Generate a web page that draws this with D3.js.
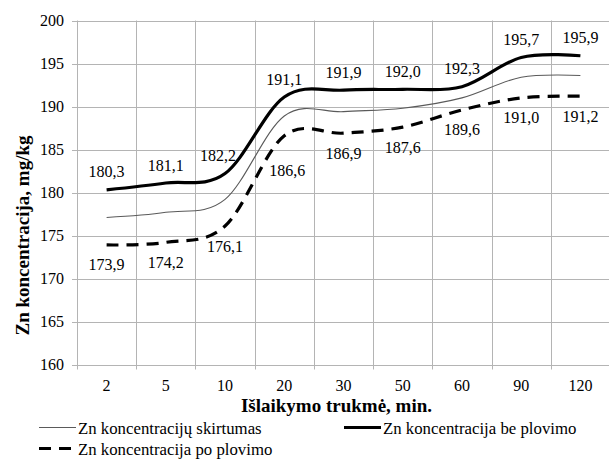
<!DOCTYPE html>
<html><head><meta charset="utf-8"><script src="https://cdn.jsdelivr.net/npm/d3@7"></script></head>
<body style="margin:0">
<svg id="chart" width="609" height="459"></svg>
<script>
// ---- data ----
const categories = ["2", "5", "10", "20", "30", "50", "60", "90", "120"];
const beValues   = [180.3, 181.1, 182.2, 191.1, 191.9, 192.0, 192.3, 195.7, 195.9];   // Zn koncentracija be plovimo
const poValues   = [173.9, 174.2, 176.1, 186.6, 186.9, 187.6, 189.6, 191.0, 191.2];   // Zn koncentracija po plovimo
const skValues   = [177.1, 177.7, 179.2, 188.9, 189.4, 189.8, 191.0, 193.4, 193.6];   // Zn koncentracijų skirtumas (no labels)
const yTicks     = [160, 165, 170, 175, 180, 185, 190, 195, 200];
const seriesNames = ["Zn koncentracijų skirtumas", "Zn koncentracija be plovimo", "Zn koncentracija po plovimo"];
const xTitle = "Išlaikymo trukmė, min.";
const yTitle = "Zn koncentracija, mg/kg";

// ---- layout ----
const svg = d3.select("#chart");
const pL = 77, pR = 610, pT = 20.5, pB = 364.5;
const x = d3.scaleBand().domain(categories).range([pL, pR]).paddingInner(0).paddingOuter(0);
const y = d3.scaleLinear().domain([160, 200]).range([pB, pT]);
const cx = c => x(c) + x.bandwidth() / 2;
const grid = "#b4b4b4";
const fmt = v => d3.format(".1f")(v).replace(".", ",");
function serif(sel) {
  sel.attr("font-family", "Times New Roman").style("font-family", '"Times New Roman"').attr("fill", "#000");
}

// horizontal gridlines + y ticks
const gy = svg.append("g");
gy.selectAll("line").data(yTicks).join("line")
  .attr("x1", pL - 5).attr("x2", pR)
  .attr("y1", d => Math.round(y(d)) + 0.5).attr("y2", d => Math.round(y(d)) + 0.5)
  .attr("stroke", grid).attr("stroke-width", 1);
gy.selectAll("text").data(yTicks).join("text")
  .attr("x", 64).attr("y", d => y(d) + 5.5)
  .attr("text-anchor", "end").attr("font-size", 16)
  .call(serif)
  .text(d => d);

// vertical gridlines (band boundaries) + x ticks
const bounds = categories.map(c => x(c));
svg.append("g").selectAll("line").data(bounds).join("line")
  .attr("x1", d => Math.round(d) + 0.5).attr("x2", d => Math.round(d) + 0.5)
  .attr("y1", pT).attr("y2", pB + 5)
  .attr("stroke", grid).attr("stroke-width", 1);
svg.append("g").selectAll("text").data(categories).join("text")
  .attr("x", d => cx(d)).attr("y", 390.5)
  .attr("text-anchor", "middle").attr("font-size", 16)
  .call(serif)
  .text(d => d);

// axis titles
svg.append("text").attr("x", 336.5).attr("y", 412).attr("text-anchor", "middle")
  .attr("font-size", 19).attr("font-weight", "bold")
  .call(serif).text(xTitle);
svg.append("text").attr("transform", "translate(28.5,235.5) rotate(-90)").attr("text-anchor", "middle")
  .attr("font-size", 19).attr("font-weight", "bold")
  .call(serif).text(yTitle);

// lines
const line = d3.line().x((d, i) => cx(categories[i])).y(d => y(d)).curve(d3.curveCardinal.tension(0));
svg.append("path").datum(skValues).attr("d", line)
  .attr("fill", "none").attr("stroke", "#5a5a5a").attr("stroke-width", 1.1);
svg.append("path").datum(poValues).attr("d", line)
  .attr("fill", "none").attr("stroke", "#000").attr("stroke-width", 3.2)
  .attr("stroke-dasharray", "12,8");
svg.append("path").datum(beValues).attr("d", line)
  .attr("fill", "none").attr("stroke", "#000").attr("stroke-width", 3.2);

// data labels
svg.append("g").selectAll("text").data(beValues).join("text")
  .attr("x", (d, i) => cx(categories[i]) + (i === 2 ? -7 : 0))
  .attr("y", d => y(d) - 12.5)
  .attr("text-anchor", "middle").attr("font-size", 16)
  .call(serif)
  .text(d => fmt(d));
svg.append("g").selectAll("text").data(poValues).join("text")
  .attr("x", (d, i) => cx(categories[i]) + (i === 3 ? 3 : 0))
  .attr("y", (d, i) => y(d) + (i === 3 ? 40 : 25.5))
  .attr("text-anchor", "middle").attr("font-size", 16)
  .call(serif)
  .text(d => fmt(d));

// legend
const leg = svg.append("g");
function legItem(lx, ly, name, stroke, width, dash) {
  leg.append("line").attr("x1", lx).attr("x2", lx + 37).attr("y1", ly).attr("y2", ly)
    .attr("stroke", stroke).attr("stroke-width", width).attr("stroke-dasharray", dash || null);
  leg.append("text").attr("x", lx + 39).attr("y", ly + 6.5).attr("font-size", 16.8)
    .call(serif).text(name);
}
legItem(39, 427.5, seriesNames[0], "#5a5a5a", 1.1);
legItem(344, 427.5, seriesNames[1], "#000", 3.2);
legItem(39, 448.5, seriesNames[2], "#000", 3.2, "12,8");
</script>
</body>
</html>
